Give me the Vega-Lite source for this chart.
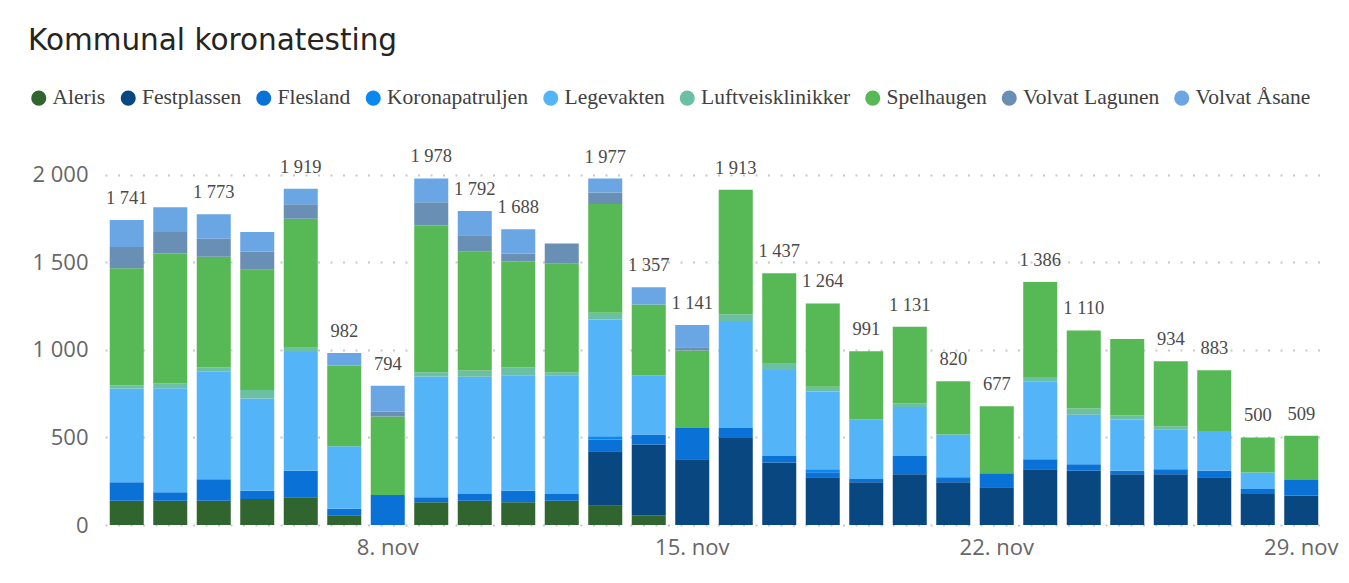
{
  "$schema": "https://vega.github.io/schema/vega-lite/v6.json",
  "autosize": {"type": "none"},
  "padding": {"left": 105, "top": 157, "right": 26, "bottom": 58},
  "width": 1218,
  "height": 368,
  "background": "white",
  "config": {
    "locale": {"number": {"decimal": ",", "thousands": " ", "grouping": [3], "currency": ["", " kr"]}},
    "view": {"stroke": null}
  },
  "title": {
    "text": "Kommunal koronatesting",
    "anchor": "start",
    "frame": "bounds",
    "dx": 0,
    "font": "DejaVu Sans",
    "fontSize": 29.5,
    "fontWeight": "normal",
    "color": "#252423",
    "offset": 31
  },
  "data": {"values": [
    {"date": "2021-11-02", "Aleris": 139, "Flesland": 105, "Legevakten": 535, "Luftveisklinikker": 17, "Spelhaugen": 669, "Volvat Lagunen": 122, "Volvat Åsane": 154},
    {"date": "2021-11-03", "Aleris": 139, "Flesland": 48, "Legevakten": 594, "Luftveisklinikker": 27, "Spelhaugen": 742, "Volvat Lagunen": 122, "Volvat Åsane": 141},
    {"date": "2021-11-04", "Aleris": 139, "Flesland": 122, "Legevakten": 613, "Luftveisklinikker": 25, "Spelhaugen": 632, "Volvat Lagunen": 103, "Volvat Åsane": 139},
    {"date": "2021-11-05", "Aleris": 149, "Flesland": 47, "Legevakten": 526, "Luftveisklinikker": 48, "Spelhaugen": 687, "Volvat Lagunen": 103, "Volvat Åsane": 112},
    {"date": "2021-11-06", "Aleris": 158, "Flesland": 151, "Legevakten": 678, "Luftveisklinikker": 24, "Spelhaugen": 736, "Volvat Lagunen": 83, "Volvat Åsane": 89},
    {"date": "2021-11-07", "Aleris": 55, "Flesland": 38, "Legevakten": 357, "Spelhaugen": 460, "Volvat Åsane": 72},
    {"date": "2021-11-08", "Flesland": 171, "Spelhaugen": 448, "Volvat Lagunen": 27, "Volvat Åsane": 148},
    {"date": "2021-11-09", "Aleris": 130, "Flesland": 28, "Legevakten": 690, "Luftveisklinikker": 24, "Spelhaugen": 837, "Volvat Lagunen": 133, "Volvat Åsane": 136},
    {"date": "2021-11-10", "Aleris": 139, "Flesland": 38, "Legevakten": 669, "Luftveisklinikker": 36, "Spelhaugen": 678, "Volvat Lagunen": 93, "Volvat Åsane": 139},
    {"date": "2021-11-11", "Aleris": 130, "Flesland": 66, "Legevakten": 659, "Luftveisklinikker": 44, "Spelhaugen": 604, "Volvat Lagunen": 47, "Volvat Åsane": 138},
    {"date": "2021-11-12", "Aleris": 139, "Flesland": 38, "Legevakten": 678, "Luftveisklinikker": 17, "Spelhaugen": 621, "Volvat Lagunen": 113},
    {"date": "2021-11-13", "Aleris": 110, "Festplassen": 311, "Flesland": 67, "Koronapatruljen": 19, "Legevakten": 666, "Luftveisklinikker": 38, "Spelhaugen": 621, "Volvat Lagunen": 65, "Volvat Åsane": 80},
    {"date": "2021-11-14", "Aleris": 55, "Festplassen": 404, "Flesland": 57, "Legevakten": 339, "Spelhaugen": 404, "Volvat Åsane": 98},
    {"date": "2021-11-15", "Festplassen": 375, "Flesland": 179, "Spelhaugen": 442, "Volvat Lagunen": 19, "Volvat Åsane": 126},
    {"date": "2021-11-16", "Festplassen": 497, "Flesland": 57, "Legevakten": 610, "Luftveisklinikker": 38, "Spelhaugen": 711},
    {"date": "2021-11-17", "Festplassen": 356, "Flesland": 38, "Legevakten": 490, "Luftveisklinikker": 36, "Spelhaugen": 517},
    {"date": "2021-11-18", "Festplassen": 272, "Flesland": 29, "Koronapatruljen": 17, "Legevakten": 444, "Luftveisklinikker": 27, "Spelhaugen": 475},
    {"date": "2021-11-19", "Festplassen": 244, "Flesland": 19, "Legevakten": 341, "Spelhaugen": 387},
    {"date": "2021-11-20", "Festplassen": 290, "Flesland": 104, "Legevakten": 280, "Luftveisklinikker": 19, "Spelhaugen": 438},
    {"date": "2021-11-21", "Festplassen": 244, "Flesland": 28, "Legevakten": 244, "Spelhaugen": 304},
    {"date": "2021-11-22", "Festplassen": 215, "Flesland": 80, "Spelhaugen": 382},
    {"date": "2021-11-23", "Festplassen": 318, "Flesland": 57, "Legevakten": 442, "Luftveisklinikker": 27, "Spelhaugen": 542},
    {"date": "2021-11-24", "Festplassen": 309, "Flesland": 38, "Legevakten": 282, "Luftveisklinikker": 36, "Spelhaugen": 445},
    {"date": "2021-11-25", "Festplassen": 290, "Flesland": 19, "Legevakten": 293, "Luftveisklinikker": 25, "Spelhaugen": 434},
    {"date": "2021-11-26", "Festplassen": 290, "Flesland": 28, "Legevakten": 229, "Luftveisklinikker": 17, "Spelhaugen": 370},
    {"date": "2021-11-27", "Festplassen": 272, "Flesland": 37, "Legevakten": 228, "Spelhaugen": 346},
    {"date": "2021-11-28", "Festplassen": 177, "Flesland": 29, "Legevakten": 93, "Spelhaugen": 201},
    {"date": "2021-11-29", "Festplassen": 168, "Flesland": 89, "Spelhaugen": 252}
  ]},
  "transform": [
    {"fold": ["Aleris", "Festplassen", "Flesland", "Koronapatruljen", "Legevakten", "Luftveisklinikker", "Spelhaugen", "Volvat Lagunen", "Volvat Åsane"], "as": ["site", "n"]},
    {"filter": "datum.n > 0"}
  ],
  "encoding": {
    "x": {
      "field": "date",
      "type": "ordinal",
      "scale": {"paddingInner": 0.218, "paddingOuter": 0.109},
      "axis": {
        "title": null,
        "domain": false,
        "ticks": false,
        "labelAngle": 0,
        "labelFont": "Open Sans",
        "labelFontSize": 22,
        "labelColor": "#666666",
        "labelPadding": 12,
        "labelOverlap": false,
        "labelExpr": "indexof(['2021-11-08','2021-11-15','2021-11-22','2021-11-29'], datum.value) >= 0 ? toNumber(slice(datum.value, 8)) + '. nov' : ''"
      }
    }
  },
  "layer": [
    {
      "mark": {"type": "bar"},
      "encoding": {
        "y": {
          "field": "n",
          "type": "quantitative",
          "stack": "zero",
          "scale": {"domain": [0, 2100], "nice": false},
          "axis": {
            "title": null,
            "values": [0, 500, 1000, 1500, 2000],
            "format": ",d",
            "domain": false,
            "ticks": false,
            "labelFont": "Open Sans",
            "labelFontSize": 22,
            "labelColor": "#666666",
            "labelPadding": 17,
            "gridColor": "#c8c8c8",
            "gridWidth": 2,
            "gridDash": [2, 10.5]
          }
        },
        "order": {"field": "site", "sort": "ascending"},
        "color": {
          "field": "site",
          "type": "nominal",
          "scale": {
            "domain": ["Aleris", "Festplassen", "Flesland", "Koronapatruljen", "Legevakten", "Luftveisklinikker", "Spelhaugen", "Volvat Lagunen", "Volvat Åsane"],
            "range": ["#31652f", "#094780", "#0a71d6", "#0a87f0", "#53b5f8", "#6bbfa2", "#57b856", "#6a8fb4", "#6aa6e4"]
          },
          "legend": {
            "title": null,
            "orient": "none",
            "legendX": -77,
            "legendY": -70,
            "direction": "horizontal",
            "symbolType": "circle",
            "symbolSize": 227,
            "symbolStrokeWidth": 0,
            "labelFont": "Liberation Serif",
            "labelFontSize": 21.5,
            "labelColor": "#404040",
            "labelOffset": 3,
            "columnPadding": 11.5
          }
        }
      }
    },
    {
      "transform": [
        {"aggregate": [{"op": "sum", "field": "n", "as": "total"}], "groupby": ["date"]},
        {"filter": {"not": {"field": "date", "oneOf": ["2021-11-03", "2021-11-05", "2021-11-12", "2021-11-25"]}}}
      ],
      "mark": {"type": "text", "font": "Liberation Serif", "fontSize": 18.5, "color": "#4a4a4a", "baseline": "alphabetic", "dy": -16},
      "encoding": {
        "y": {"field": "total", "type": "quantitative"},
        "text": {"field": "total", "type": "quantitative", "format": ",d"}
      }
    }
  ]
}
